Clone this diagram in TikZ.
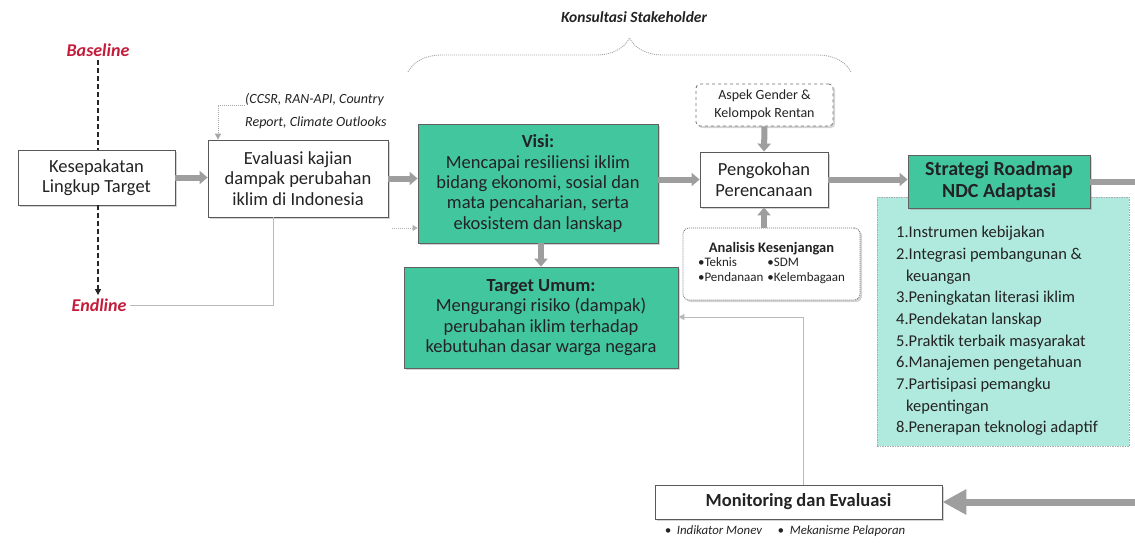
\documentclass[tikz,border=0pt]{standalone}
\usepackage{fontspec}
\setmainfont{Carlito}
\usetikzlibrary{arrows.meta,shadows,decorations.pathreplacing}
\definecolor{tealbox}{RGB}{66,198,158}
\definecolor{mint}{RGB}{176,233,221}
\definecolor{redlbl}{RGB}{196,28,58}
\definecolor{arrgray}{RGB}{158,158,158}
\definecolor{txt}{RGB}{35,35,35}
\begin{document}
\begin{tikzpicture}[x=1pt,y=-1pt,
  box/.style={draw=black!65, line width=0.8pt, fill=white, align=center, inner sep=2pt, text=txt,
    drop shadow={shadow xshift=2pt,shadow yshift=-2pt,opacity=0.35}},
  tbox/.style={box, fill=tealbox, draw=gray!75!black},
  big/.style={font=\fontsize{18.5}{20.3}\selectfont},
  fat/.style={draw=arrgray, line width=6pt, -{Triangle[width=13pt,length=8pt]}},
  thin/.style={draw=gray!55, line width=0.9pt},
  redtxt/.style={text=redlbl, font=\fontsize{18}{20}\selectfont\bfseries\itshape},
  smallit/.style={font=\fontsize{14}{22.5}\selectfont\itshape, text=txt, align=left},
]
\useasboundingbox (0,0) rectangle (1135,542);
\clip (0,0) rectangle (1135,542);

% labels
\node[redtxt] (base) at (98,50) {Baseline};
\node[redtxt] (endl) at (99,305) {Endline};

% main boxes
\node[box, big, minimum width=157pt, minimum height=55pt] (kes) at (96.5,177.5) {Kesepakatan\\Lingkup Target};
\node[box, big, minimum width=180pt, minimum height=77pt] (eva) at (298,178.5) {Evaluasi kajian\\dampak perubahan\\iklim di Indonesia};
\node[tbox, big, minimum width=240pt, minimum height=119pt] (visi) at (538,183.5) {\textbf{Visi:}\\Mencapai resiliensi iklim\\bidang ekonomi, sosial dan\\mata pencaharian, serta\\ekosistem dan lanskap};
\node[tbox, big, minimum width=274pt, minimum height=101pt] (targ) at (541,317.5) {\textbf{Target Umum:}\\Mengurangi risiko (dampak)\\perubahan iklim terhadap\\kebutuhan dasar warga negara};

\node[box, font=\fontsize{14}{18.5}\selectfont, rounded corners=4pt, dashed, draw=black!55, drop shadow={opacity=0}, minimum width=137pt, minimum height=42pt] (asp) at (764.5,105) {Aspek Gender \&\\Kelompok Rentan};
\node[box, big, minimum width=128pt, minimum height=55pt] (peng) at (764,179.5) {Pengokohan\\Perencanaan};
\node[box, font=\fontsize{13}{15}\selectfont, rounded corners=6pt, draw=black!55, dash pattern=on 1pt off 1pt, drop shadow={opacity=0}, minimum width=177pt, minimum height=72pt] (anal) at (771.5,264)
  {{\fontsize{14.5}{15}\selectfont\textbf{Analisis Kesenjangan}}\\[0pt]
   \begin{tabular}{@{}l@{\hspace{4pt}}l@{}}\textbullet Teknis & \textbullet SDM\\ \textbullet Pendanaan & \textbullet Kelembagaan\end{tabular}};

% strategy panel
\node[draw=gray!65, dash pattern=on 1.5pt off 1pt, fill=mint, minimum width=252pt, minimum height=249pt, inner sep=0pt] (panel) at (1003,321.5) {};
\node[tbox, font=\fontsize{20}{22}\selectfont\bfseries, minimum width=182pt, minimum height=53pt] (str) at (999,181.5) {Strategi Roadmap\\NDC Adaptasi};
\node[anchor=north west, align=left, text=txt, font=\fontsize{16.5}{21.7}\selectfont, inner sep=0pt] (lst) at (896,226)
 {1.Instrumen kebijakan\\
  2.Integrasi pembangunan \&\\
  \hspace*{10pt}keuangan\\
  3.Peningkatan literasi iklim\\
  4.Pendekatan lanskap\\
  5.Praktik terbaik masyarakat\\
  6.Manajemen pengetahuan\\
  7.Partisipasi pemangku\\
  \hspace*{10pt}kepentingan\\
  8.Penerapan teknologi adaptif};

\node[box, font=\fontsize{18.5}{20}\selectfont\bfseries, minimum width=287pt, minimum height=34pt] (mon) at (798.5,502) {Monitoring dan Evaluasi};
\node[font=\fontsize{12.8}{14}\selectfont\itshape, text=txt] (monsub) at (785,531) {\textbullet\ \ Indikator Monev\quad\ \textbullet\ \ Mekanisme Pelaporan};

% top annotations
\node[font=\fontsize{15.5}{17}\selectfont\bfseries\itshape, text=txt] (kons) at (634,17) {Konsultasi Stakeholder};
\coordinate (brL) at (408,72);
\coordinate (brR) at (851,72);
\draw[draw=gray!70, dash pattern=on 1pt off 1pt, line width=0.9pt, decorate, decoration={brace, amplitude=34pt}] (brL) -- (brR);

\node[smallit, anchor=west, inner sep=0pt] (ccsr) at (245,111) {(CCSR, RAN-API, Country\\Report, Climate Outlooks};
\coordinate (cc1) at (218,105);
\draw[draw=gray!70, dash pattern=on 1pt off 1pt, line width=0.9pt, -{Triangle[width=6pt,length=6pt]}] (ccsr.west|-cc1) -- (cc1) -- (cc1|-eva.north);

% dashed baseline/endline
\draw[black!85, line width=1.2pt, dash pattern=on 5pt off 3pt] (base.south) -- (base.south|-kes.north);
\draw[black!85, line width=1.2pt, dash pattern=on 5pt off 3pt, -{Triangle[width=6pt,length=6pt]}] (base.south|-kes.south) -- (base.south|-endl.north);

% thick flow arrows
\draw[fat] (kes.east) -- (eva.west|-kes.east);
\draw[fat] (eva.east) -- (visi.west|-eva.east);
\draw[fat] (visi.east|-peng.west) -- (peng.west);
\draw[fat] (peng.east) -- (str.west|-peng.east);
\draw[fat] (targ.north|-visi.south) -- (targ.north);
\draw[fat] (asp.south) -- (peng.north);
\draw[fat] (anal.north-|peng.south) -- (peng.south);
\coordinate (rc1) at (1150,181.5);
\coordinate (rc2) at (1150,502);
\draw[draw=arrgray, line width=6pt] (str.east) -- (rc1) -- (rc2);
\draw[draw=arrgray, line width=7pt, -{Triangle[width=24pt,length=24pt]}] (rc2) -- (mon.east);

% thin feedback lines
\coordinate (ev1) at (273,305);
\draw[thin] (ev1|-eva.south) -- (ev1) -- (endl.east);
\coordinate (mn1) at (803,317);
\draw[thin, -{Triangle[width=6pt,length=6pt]}] (mn1|-mon.north) -- (mn1) -- (targ.east|-mn1);
\coordinate (vd1) at (392,228);
\draw[draw=gray!60, dash pattern=on 1pt off 1pt, line width=0.9pt, -{Triangle[width=6pt,length=5pt]}] (vd1) -- (visi.west|-vd1);
\end{tikzpicture}
\end{document}
